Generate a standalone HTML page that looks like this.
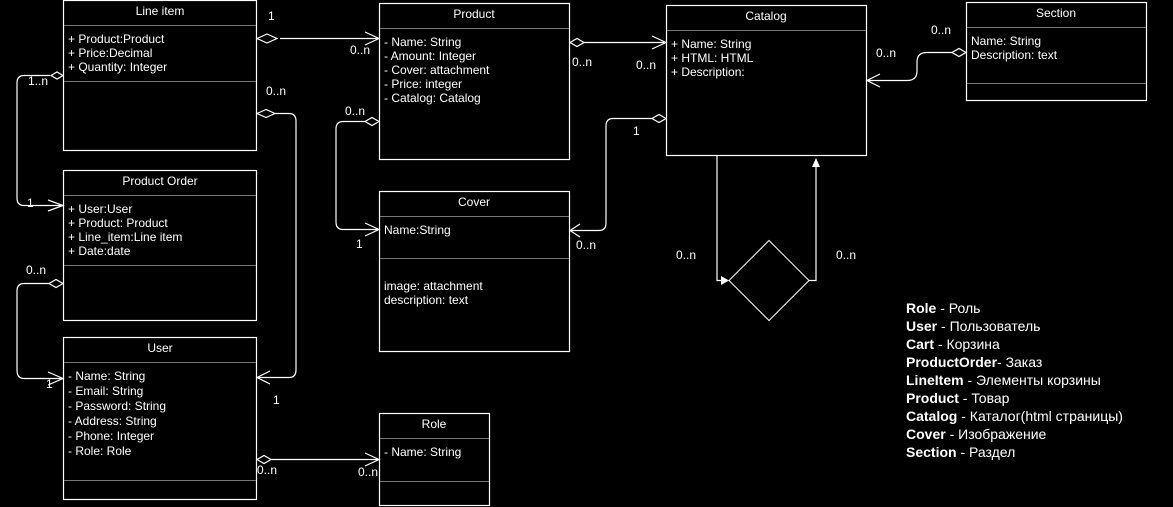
<!DOCTYPE html>
<html><head><meta charset="utf-8"><style>
html,body{margin:0;padding:0;background:#000;}
svg{display:block;font-family:"Liberation Sans",Arial,sans-serif;}
.b{fill:#000;stroke:#fff;stroke-width:1.2}
.d{stroke:#777;stroke-width:1}
.t{fill:#fff;font-size:12px}
.c{fill:none;stroke:#fff;stroke-width:1.2}
.dm{fill:#000;stroke:#fff;stroke-width:1.2}
.lg{fill:#fff;font-size:14px}
</style></head><body>
<svg width="1173" height="507" viewBox="0 0 1173 507" xmlns="http://www.w3.org/2000/svg">
<!-- Line item -->
<rect class="b" x="63.5" y="0.5" width="193" height="150"/>
<line class="d" x1="64" y1="25.5" x2="256" y2="25.5"/>
<line class="d" x1="64" y1="81.5" x2="256" y2="81.5"/>
<text class="t" x="160" y="15" text-anchor="middle">Line item</text>
<text class="t" x="68" y="43">+ Product:Product</text>
<text class="t" x="68" y="57">+ Price:Decimal</text>
<text class="t" x="68" y="71">+ Quantity: Integer</text>
<!-- Product Order -->
<rect class="b" x="63.5" y="170.5" width="193" height="150"/>
<line class="d" x1="64" y1="195.5" x2="256" y2="195.5"/>
<line class="d" x1="64" y1="265.5" x2="256" y2="265.5"/>
<text class="t" x="160" y="185" text-anchor="middle">Product Order</text>
<text class="t" x="68" y="213">+ User:User</text>
<text class="t" x="68" y="227">+ Product: Product</text>
<text class="t" x="68" y="241">+ Line_item:Line item</text>
<text class="t" x="68" y="255">+ Date:date</text>
<!-- User -->
<rect class="b" x="63.5" y="337.5" width="193" height="162"/>
<line class="d" x1="64" y1="362.5" x2="256" y2="362.5"/>
<line class="d" x1="64" y1="480.5" x2="256" y2="480.5"/>
<text class="t" x="160" y="352" text-anchor="middle">User</text>
<text class="t" x="68" y="380">- Name: String</text>
<text class="t" x="68" y="395">- Email: String</text>
<text class="t" x="68" y="410">- Password: String</text>
<text class="t" x="68" y="425">- Address: String</text>
<text class="t" x="68" y="440">- Phone: Integer</text>
<text class="t" x="68" y="455">- Role: Role</text>
<!-- Product -->
<rect class="b" x="379.5" y="3.5" width="190" height="156"/>
<line class="d" x1="380" y1="28.5" x2="569" y2="28.5"/>
<text class="t" x="474" y="18" text-anchor="middle">Product</text>
<text class="t" x="384" y="46">- Name: String</text>
<text class="t" x="384" y="60">- Amount: Integer</text>
<text class="t" x="384" y="74">- Cover: attachment</text>
<text class="t" x="384" y="88">- Price: integer</text>
<text class="t" x="384" y="102">- Catalog: Catalog</text>
<!-- Cover -->
<rect class="b" x="379.5" y="191.5" width="190" height="160"/>
<line class="d" x1="380" y1="216.5" x2="569" y2="216.5"/>
<line class="d" x1="380" y1="258.5" x2="569" y2="258.5"/>
<text class="t" x="474" y="206" text-anchor="middle">Cover</text>
<text class="t" x="384" y="234">Name:String</text>
<text class="t" x="384" y="290">image: attachment</text>
<text class="t" x="384" y="304">description: text</text>
<!-- Role -->
<rect class="b" x="379.5" y="413.5" width="110" height="92"/>
<line class="d" x1="380" y1="438.5" x2="489" y2="438.5"/>
<line class="d" x1="380" y1="481.5" x2="489" y2="481.5"/>
<text class="t" x="434" y="428" text-anchor="middle">Role</text>
<text class="t" x="384" y="456">- Name: String</text>
<!-- Catalog -->
<rect class="b" x="666.5" y="5.5" width="200" height="150"/>
<line class="d" x1="667" y1="30.5" x2="866" y2="30.5"/>
<text class="t" x="766" y="20" text-anchor="middle">Catalog</text>
<text class="t" x="671" y="48">+ Name: String</text>
<text class="t" x="671" y="62">+ HTML: HTML</text>
<text class="t" x="671" y="76">+ Description:</text>
<!-- Section -->
<rect class="b" x="966.5" y="2.5" width="180" height="98"/>
<line class="d" x1="967" y1="27.5" x2="1146" y2="27.5"/>
<line class="d" x1="967" y1="83.5" x2="1146" y2="83.5"/>
<text class="t" x="1056" y="17" text-anchor="middle">Section</text>
<text class="t" x="971" y="45">Name: String</text>
<text class="t" x="971" y="59">Description: text</text>

<!-- LineItem -> Product -->
<path class="c" d="M280 38.5 H379 M365 32 L379 38.5 L365 45"/>
<path class="dm" d="M257 38.5 L267 34 L277 38.5 L267 43 Z"/>
<text class="t" x="268" y="20" font-size="11">1</text>
<text class="t" x="350" y="54" font-size="11">0..n</text>
<!-- LineItem -> ProductOrder -->
<path class="c" d="M50 75.5 H24 Q17 75.5 17 83 V198 Q17 205.5 24 205.5 H63 M48 200 L63 205.5 L48 211"/>
<path class="dm" d="M63 75.5 L57 72 L51 75.5 L57 79 Z"/>
<text class="t" x="28" y="85" font-size="11">1..n</text>
<text class="t" x="27" y="207" font-size="11">1</text>
<!-- LineItem -> User -->
<path class="c" d="M275 113.5 H289 Q296 113.5 296 121 V370 Q296 377.5 289 377.5 H257 M270 371 L257 377.5 L270 384"/>
<path class="dm" d="M257 113.5 L266 109.5 L275 113.5 L266 117.5 Z"/>
<text class="t" x="266" y="95" font-size="11">0..n</text>
<text class="t" x="273" y="404" font-size="11">1</text>
<!-- Product -> Cover -->
<path class="c" d="M366 121.5 H343 Q336 121.5 336 129 V222 Q336 229.5 343 229.5 H379 M365 223 L379 229.5 L365 236"/>
<path class="dm" d="M379 121.5 L372 117.5 L365 121.5 L372 125.5 Z"/>
<text class="t" x="345" y="115" font-size="11">0..n</text>
<text class="t" x="356" y="248" font-size="11">1</text>
<!-- Product -> Catalog -->
<path class="c" d="M583 42.5 H666 M652 36 L666 42.5 L652 49"/>
<path class="dm" d="M570 42.5 L577 38.5 L584 42.5 L577 46.5 Z"/>
<text class="t" x="572" y="66" font-size="11">0..n</text>
<text class="t" x="636" y="69" font-size="11">0..n</text>
<!-- Catalog -> Cover -->
<path class="c" d="M652 118.5 H613 Q606 118.5 606 126 V223 Q606 230.5 599 230.5 H570 M580 224 L570 230.5 L580 237"/>
<path class="dm" d="M666 118.5 L659 114.5 L652 118.5 L659 122.5 Z"/>
<text class="t" x="633" y="135" font-size="11">1</text>
<text class="t" x="576" y="249" font-size="11">0..n</text>
<!-- Section -> Catalog -->
<path class="c" d="M952 52.5 H927 Q917 52.5 917 62 V71 Q917 80.5 907 80.5 H867 M880 74 L867 80.5 L880 87"/>
<path class="dm" d="M966 52.5 L959 48.5 L952 52.5 L959 56.5 Z"/>
<text class="t" x="931" y="34" font-size="11">0..n</text>
<text class="t" x="876" y="57" font-size="11">0..n</text>
<!-- Catalog self via diamond -->
<path class="c" d="M717 156 V280.5 H725 M809 280.5 H816 V162"/>
<path d="M721 276 L729 280.5 L721 285 Z" fill="#fff"/>
<path d="M812 167 L816 158 L820 167 Z" fill="#fff"/>
<path fill="none" stroke="#fff" stroke-width="1" d="M769 240.5 L809 280.5 L769 320.5 L729 280.5 Z"/>
<text class="t" x="676" y="259" font-size="11">0..n</text>
<text class="t" x="836" y="259" font-size="11">0..n</text>
<!-- ProductOrder -> User -->
<path class="c" d="M50 283.5 H24 Q17 283.5 17 291 V370 Q17 378.5 24 378.5 H63 M48 372 L63 378.5 L48 385"/>
<path class="dm" d="M63 283.5 L56 279.5 L49 283.5 L56 287.5 Z"/>
<text class="t" x="26" y="274" font-size="11">0..n</text>
<text class="t" x="46" y="388" font-size="11">1</text>
<!-- User -> Role -->
<path class="c" d="M271 459.5 H379 M365 453 L379 459.5 L365 466"/>
<path class="dm" d="M257 459.5 L264 455.5 L271 459.5 L264 463.5 Z"/>
<text class="t" x="257" y="474" font-size="11">0..n</text>
<text class="t" x="358" y="476" font-size="11">0..n</text>

<!-- Legend -->
<text class="lg" x="906" y="313"><tspan font-weight="bold">Role</tspan> - Роль</text>
<text class="lg" x="906" y="331"><tspan font-weight="bold">User</tspan> - Пользователь</text>
<text class="lg" x="906" y="349"><tspan font-weight="bold">Cart</tspan> - Корзина</text>
<text class="lg" x="906" y="367"><tspan font-weight="bold">ProductOrder</tspan>- Заказ</text>
<text class="lg" x="906" y="385"><tspan font-weight="bold">LineItem</tspan> - Элементы корзины</text>
<text class="lg" x="906" y="403"><tspan font-weight="bold">Product</tspan> - Товар</text>
<text class="lg" x="906" y="421"><tspan font-weight="bold">Catalog</tspan> - Каталог(html страницы)</text>
<text class="lg" x="906" y="439"><tspan font-weight="bold">Cover</tspan> - Изображение</text>
<text class="lg" x="906" y="457"><tspan font-weight="bold">Section</tspan> - Раздел</text>
</svg>
</body></html>
